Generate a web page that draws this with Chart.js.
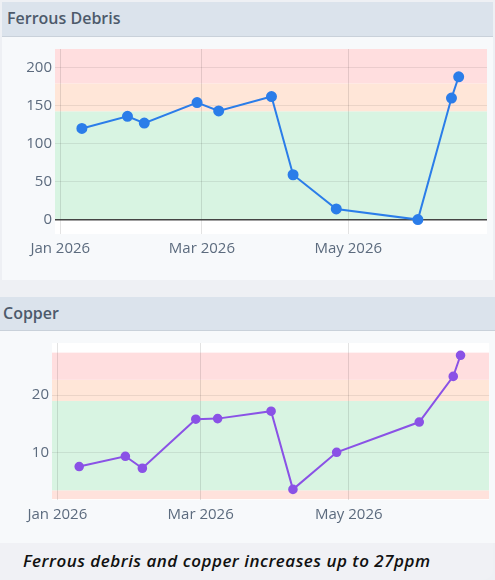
<!DOCTYPE html>
<html>
<head>
<meta charset="utf-8">
<script src="https://cdn.jsdelivr.net/npm/chart.js@4.4.1/dist/chart.umd.min.js"></script>
<style>
  html, body { margin: 0; padding: 0; }
  body {
    width: 495px; height: 580px; position: relative; overflow: hidden;
    background: #eef0f4; font-family: "Open Sans", sans-serif;
  }
  .panel { position: absolute; background: #f7f9fb; }
  .head {
    position: absolute; left: 0; right: 0; top: 0; box-sizing: border-box;
    background: #dbe3ec; border-bottom: 1px solid #c9d1da;
    color: #4d5a6b; font-weight: 600; font-size: 16px;
  }
  canvas { position: absolute; left: 0; }
  #caption {
    position: absolute; left: 0; top: 543px; width: 493px; height: 37px;
    background: #f0f1f5; border-bottom-right-radius: 10px;
    font-family: "Open Sans", sans-serif; font-style: italic; font-weight: 600;
    font-size: 17px; letter-spacing: 0.5px; color: #111;
    line-height: 36px; padding-left: 23px; box-sizing: border-box;
  }
</style>
</head>
<body>

<div class="panel" style="left:2px; top:2px; width:491px; height:278px;">
  <div class="head" style="height:35px; line-height:33px; padding-left:5px;">Ferrous Debris</div>
</div>
<canvas id="ferrousChart" width="495" height="243" style="top:37px;"></canvas>

<div class="panel" style="left:0; top:297px; width:495px; height:246px;">
  <div class="head" style="height:34px; line-height:32px; padding-left:3px;">Copper</div>
</div>
<canvas id="copperChart" width="495" height="212" style="top:331px;"></canvas>

<div id="caption">Ferrous debris and copper increases up to 27ppm</div>

<script>
// ========== DATA ==========
const sampleDates   = ['2026-01-10', '2026-01-29', '2026-02-05', '2026-02-27', '2026-03-08', '2026-03-30',
                       '2026-04-08', '2026-04-26', '2026-05-30', '2026-06-13', '2026-06-16'];
const ferrousValues = [120, 136, 127, 154, 143, 162, 59, 14, 0, 160, 188];
const copperValues  = [7.5, 9.3, 7.2, 15.8, 15.9, 17.2, 3.5, 10, 15.3, 23.3, 27];

const xTickDates  = ['2026-01-01', '2026-03-01', '2026-05-01'];
const xTickLabels = ['Jan 2026', 'Mar 2026', 'May 2026'];
const xRangeDays  = [-2.2, 177.8];   // days from 1 Jan 2026

const ferrousYRange = [-19, 224.6];
const ferrousYTicks = [0, 50, 100, 150, 200];
const ferrousBands  = [0, 142.6, 179.3, 224.6];          // green / amber / red

const copperYRange = [1.64, 29.15];
const copperYTicks = [10, 20];
const copperBands  = [1.8, 3.34, 19.0, 22.7, 27.46];      // low / green / amber / red

// ========== HELPERS ==========
const EPOCH = Date.UTC(2026, 0, 1);
function dayOf(s) {
  const [y, m, d] = s.split('-').map(Number);
  return (Date.UTC(y, m - 1, d) - EPOCH) / 864e5;
}
const xTickDays = xTickDates.map(dayOf);

// white plot background + threshold bands under the grid
const zonePlugin = {
  id: 'zones',
  beforeDraw(chart, args, opts) {
    const { ctx, chartArea: a, scales: { y } } = chart;
    ctx.save();
    ctx.fillStyle = '#ffffff';
    ctx.fillRect(a.left, a.top, a.width, a.height);
    ctx.beginPath();
    ctx.rect(a.left, a.top, a.width, a.height);
    ctx.clip();
    for (let i = 0; i < opts.edges.length - 1; i++) {
      const top = y.getPixelForValue(opts.edges[i + 1]);
      const bot = y.getPixelForValue(opts.edges[i]);
      ctx.fillStyle = opts.colors[i];
      ctx.fillRect(a.left, top, a.width, bot - top);
    }
    ctx.restore();
  }
};

const RED = '#ffdedf', AMBER = '#ffe6d8', GREEN = '#d8f4e2', LOW = '#ffe2dc';
const tickFont = { family: '"Open Sans", sans-serif', size: 15 };
const tickColor = '#5c6b7e';

function makeChart(id, values, cfg) {
  return new Chart(document.getElementById(id), {
    type: 'line',
    data: {
      datasets: [{
        data: sampleDates.map((d, i) => ({ x: dayOf(d), y: values[i] })),
        borderColor: cfg.color,
        backgroundColor: cfg.color,
        borderWidth: 2,
        pointRadius: cfg.radius,
        pointHoverRadius: cfg.radius,
        tension: 0,
        fill: false
      }]
    },
    plugins: [zonePlugin],
    options: {
      responsive: false,
      animation: false,
      events: [],
      layout: { padding: cfg.padding },
      plugins: {
        legend: { display: false },
        tooltip: { enabled: false },
        zones: { edges: cfg.bands, colors: cfg.bandColors }
      },
      scales: {
        x: {
          type: 'linear',
          min: xRangeDays[0],
          max: xRangeDays[1],
          afterBuildTicks: s => { s.ticks = xTickDays.map(v => ({ value: v })); },
          afterFit: s => { s.height = cfg.xHeight; },
          border: { display: false },
          grid: { color: 'rgba(0,0,0,0.11)', drawTicks: false },
          ticks: {
            autoSkip: false, maxRotation: 0, padding: 6,
            color: tickColor, font: tickFont,
            callback: v => xTickLabels[xTickDays.indexOf(v)]
          }
        },
        y: {
          min: cfg.yRange[0],
          max: cfg.yRange[1],
          afterBuildTicks: s => { s.ticks = cfg.yTicks.map(v => ({ value: v })); },
          afterFit: s => { s.width = cfg.yWidth; },
          border: { display: false },
          grid: {
            drawTicks: false,
            color: c => (cfg.zeroLine && c.tick && c.tick.value === 0) ? '#444' : 'rgba(0,0,0,0.08)',
            lineWidth: c => (cfg.zeroLine && c.tick && c.tick.value === 0) ? 1.6 : 1
          },
          ticks: {
            padding: 3, color: tickColor, font: tickFont,
            callback: v => String(v)
          }
        }
      }
    }
  });
}

// ========== CHARTS ==========
makeChart('ferrousChart', ferrousValues, {
  color: '#2b7de9', radius: 4.5,
  padding: { top: 9, right: 8, bottom: 0, left: 0 },
  xHeight: 46, yWidth: 55,
  yRange: ferrousYRange, yTicks: ferrousYTicks,
  bands: ferrousBands, bandColors: [GREEN, AMBER, RED],
  zeroLine: true
});

makeChart('copperChart', copperValues, {
  color: '#8a52e6', radius: 3.8,
  padding: { top: 7, right: 5, bottom: 0, left: 0 },
  xHeight: 43, yWidth: 52,
  yRange: copperYRange, yTicks: copperYTicks,
  bands: copperBands, bandColors: [LOW, GREEN, AMBER, RED],
  zeroLine: false
});
</script>
</body>
</html>
